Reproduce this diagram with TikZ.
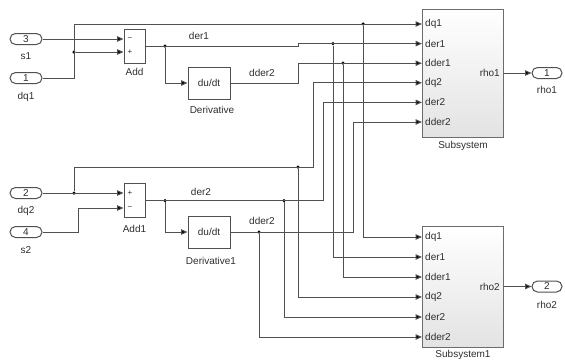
\documentclass[tikz,border=0pt]{standalone}
\usepackage{fontspec}
\setmainfont{Liberation Sans}
\usetikzlibrary{arrows.meta,calc,shadows}
\definecolor{wirec}{HTML}{505050}
\definecolor{txt}{HTML}{2E2E2E}
\begin{document}
\begin{tikzpicture}[x=1pt,y=-1pt,
 font=\fontsize{10}{12}\selectfont, text=txt,
 wire/.style={draw=wirec, line width=1pt},
 arr/.style={wire, -{Triangle[length=6.5pt,width=5.5pt,fill=black]}},
 port/.style={draw=wirec, line width=1pt, rounded corners=5.5pt, minimum width=32pt, minimum height=11pt, inner sep=0pt, fill=white},
 blk/.style={draw=wirec, line width=1pt, fill=white, inner sep=0pt},
 sub/.style={draw=gray!85!black, line width=1pt, top color=white, bottom color=gray!22, inner sep=0pt, drop shadow={shadow xshift=1.2pt, shadow yshift=-1.2pt, fill=gray!45}},
 dot/.style={circle, fill=black, inner sep=0pt, minimum size=3.5pt},
 lbl/.style={inner sep=0pt}
]
\path[use as bounding box] (0,0) rectangle (565,362);

% inports
\node[port] (i3) at (26,39) {3};
\node[lbl] at (26,56) {s1};
\node[port] (i1) at (26,78) {1};
\node[lbl] at (26,97) {dq1};
\node[port] (i2) at (26,193) {2};
\node[lbl] at (26,211) {dq2};
\node[port] (i4) at (26,232) {4};
\node[lbl] at (26,250) {s2};

% sum blocks
\node[blk, minimum width=21pt, minimum height=34pt] (add) at (134.5,46) {};
\node[lbl, font=\fontsize{8}{9}\selectfont] at (130,39) {−};
\node[lbl, font=\fontsize{8}{9}\selectfont] at (130,52.5) {+};
\node[lbl] at (134.5,72) {Add};
\node[blk, minimum width=21pt, minimum height=34pt] (add1) at (134.5,200.5) {};
\node[lbl, font=\fontsize{8}{9}\selectfont] at (130,193) {+};
\node[lbl, font=\fontsize{8}{9}\selectfont] at (130,208) {−};
\node[lbl] at (134.5,229) {Add1};

% derivatives
\node[blk, minimum width=42pt, minimum height=32pt] (der) at (209,83) {du/dt};
\node[lbl] at (212,110) {Derivative};
\node[blk, minimum width=42pt, minimum height=32pt] (der1) at (209,232) {du/dt};
\node[lbl] at (211,261) {Derivative1};

% subsystems
\node[sub, minimum width=81pt, minimum height=128pt] (ss) at (462.5,73) {};
\node[lbl] at (463,146) {Subsystem};
\node[sub, minimum width=81pt, minimum height=121pt] (ss1) at (462.5,286.5) {};
\node[lbl] at (463,355) {Subsystem1};

\foreach \n/\y/\t in {1/24/dq1,2/43.6/der1,3/63.2/dder1,4/82.8/dq2,5/102.4/der2,6/122/dder2}{
  \coordinate (a\n) at (422,\y);
  \node[lbl, anchor=west] at (425,\y) {\t};
}
\foreach \n/\y/\t in {1/237/dq1,2/257/der1,3/277/dder1,4/297/dq2,5/317/der2,6/337/dder2}{
  \coordinate (b\n) at (422,\y);
  \node[lbl, anchor=west] at (425,\y) {\t};
}
\node[lbl, anchor=east] at (500,73) {rho1};
\node[lbl, anchor=east] at (500,286.5) {rho2};

% outports
\node[port, minimum width=30pt] (o1) at (547,73) {1};
\node[lbl] at (547,90) {rho1};
\node[port, minimum width=30pt] (o2) at (547,286.5) {2};
\node[lbl] at (547,305) {rho2};

% signal labels
\node[lbl] at (199,36) {der1};
\node[lbl] at (262,73) {dder2};
\node[lbl] at (201,192) {der2};
\node[lbl] at (262,221) {dder2};

% dots
\node[dot] (d1) at (74,52) {};
\node[dot] (d2) at (165,46) {};
\node[dot] (d3) at (363,24) {};
\node[dot] (d4) at (333,43.6) {};
\node[dot] (d5) at (343,63.2) {};
\node[dot] (d6) at (74,193) {};
\node[dot] (d7) at (298,167) {};
\node[dot] (d8) at (165,200.5) {};
\node[dot] (d9) at (284,200.5) {};
\node[dot] (d10) at (259,232) {};

% upper wiring
\draw[arr] (i3.east) -- (add.west |- i3.east);
\draw[arr] (i1.east) -- (74,78) -- (74,24) -- (a1);
\draw[arr] (d1) -- (add.west |- d1);
\draw[arr] (add.east) -- (298,46) -- (298,43.6) -- (a2);
\draw[arr] (d2) -- (165,83) -- (der.west);
\draw[arr] (der.east) -- (298,83) -- (298,63.2) -- (a3);
\draw[arr] (d3) -- (363,237) -- (b1);
\draw[arr] (d4) -- (333,257) -- (b2);
\draw[arr] (d5) -- (343,277) -- (b3);

% lower wiring
\draw[arr] (i2.east) -- (add1.west |- i2.east);
\draw[arr] (d6) -- (74,167) -- (313,167) -- (313,82.8) -- (a4);
\draw[arr] (d7) -- (298,297) -- (b4);
\draw[arr] (i4.east) -- (78,232) -- (78,208) -- (add1.west |- 0,208);
\draw[arr] (add1.east) -- (323,200.5) -- (323,102.4) -- (a5);
\draw[arr] (d8) -- (165,232) -- (der1.west);
\draw[arr] (d9) -- (284,317) -- (b5);
\draw[arr] (der1.east) -- (353,232) -- (353,122) -- (a6);
\draw[arr] (d10) -- (259,337) -- (b6);

% outputs
\draw[arr] (ss.east) -- (o1.west);
\draw[arr] (ss1.east) -- (o2.west);
\end{tikzpicture}
\end{document}
